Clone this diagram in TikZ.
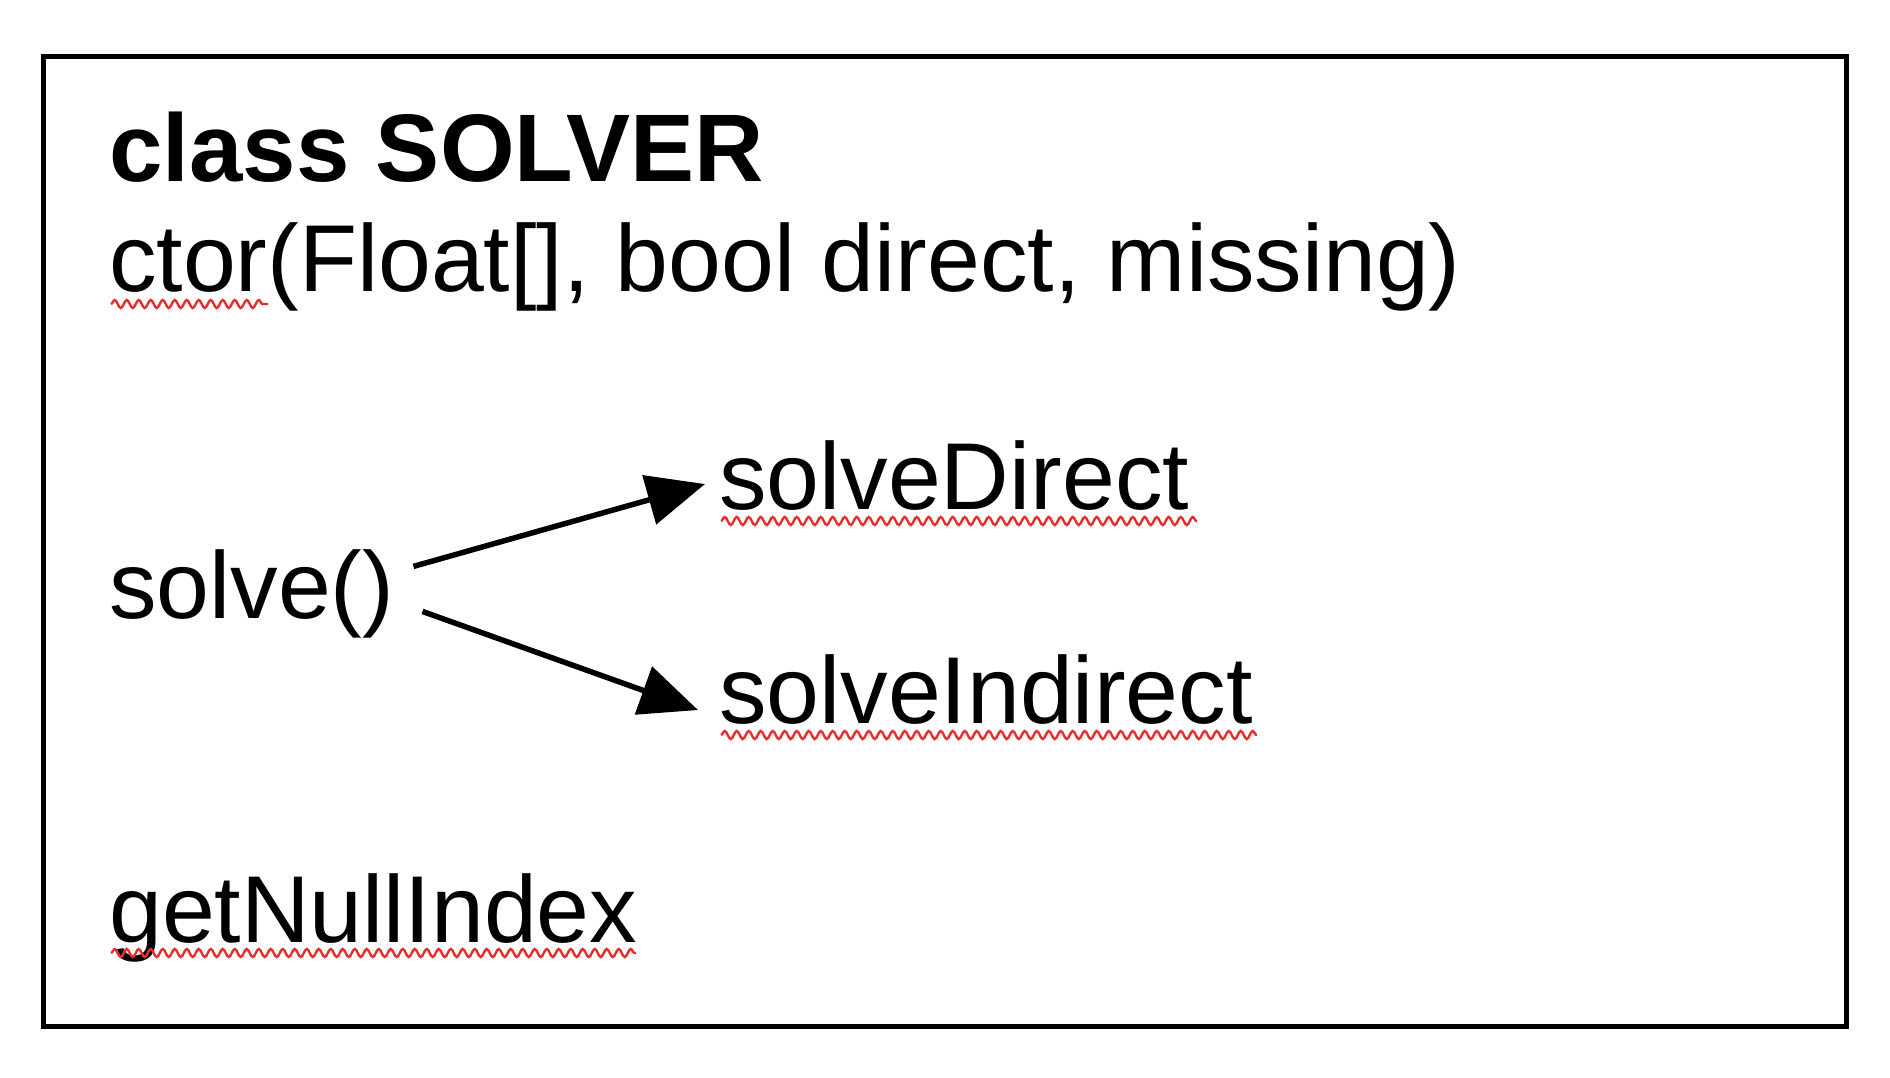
\documentclass[tikz,border=0pt]{standalone}
\usepackage{fontspec}
\setmainfont{Liberation Sans}
\usetikzlibrary{arrows.meta,decorations.pathmorphing}
\definecolor{squigred}{RGB}{232,45,45}
\tikzset{
  txt/.style={anchor=base west, inner sep=0pt, font=\fontsize{95}{110}\selectfont},
  btxt/.style={txt, font=\fontsize{96}{110}\selectfont\bfseries},
  frame/.style={draw=black, line width=5pt},
  arr/.style={line width=5.5pt, -{Triangle[length=58pt,width=50pt]}},
  squig/.style={draw=squigred, line width=2.4pt, decorate,
    decoration={snake, segment length=12pt, amplitude=4pt}}
}
\begin{document}
\begin{tikzpicture}[x=1pt,y=-1pt]
  \useasboundingbox (0,0) rectangle (1890,1078);
  \fill[white] (0,0) rectangle (1890,1078);
  \draw[frame] (43,57) rectangle (1846,1026);
  \node[btxt] (title) at (109,182) {class SOLVER};
  \node[txt] (ctor) at (109,291) {ctor(Float[], bool direct, missing)};
  \node[txt] (solve) at (109,618) {solve()};
  \node[txt] (sd) at (719,509) {solveDirect};
  \node[txt] (si) at (719,723) {solveIndirect};
  \node[txt] (gni) at (109,942) {getNullIndex};
  \draw[arr] ([xshift=19pt,yshift=27pt]solve.east) -- ([xshift=-14pt,yshift=-9pt]sd.west);
  \draw[arr] ([xshift=28pt,yshift=-18pt]solve.east) -- ([xshift=-21pt,yshift=-21pt]si.west);
  \path[squig] (111,304) -- (268,304);
  \path[squig] (721,521) -- (1197,521);
  \path[squig] (721,735) -- (1257,735);
  \path[squig] (111,953) -- (636,953);
\end{tikzpicture}
\end{document}
